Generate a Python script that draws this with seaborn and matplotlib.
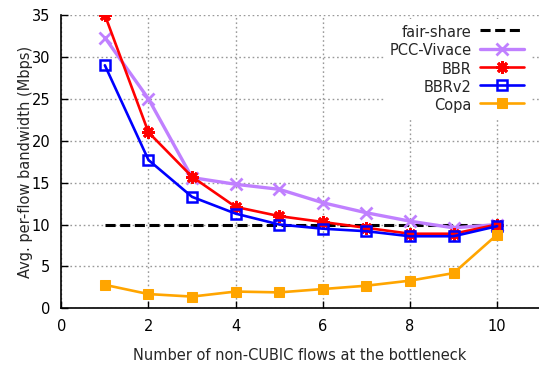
import matplotlib
matplotlib.use("Agg")
import matplotlib.pyplot as plt
import seaborn as sns
import pandas as pd

flows = [1, 2, 3, 4, 5, 6, 7, 8, 9, 10]
fair_share = [10, 10, 10, 10, 10, 10, 10, 10, 10, 10]
pcc_vivace = [32.3, 25.0, 15.6, 14.8, 14.2, 12.6, 11.4, 10.4, 9.6, 10.0]
bbr = [35.0, 21.0, 15.7, 12.1, 11.0, 10.3, 9.6, 8.9, 8.9, 10.0]
bbrv2 = [29.0, 17.7, 13.3, 11.3, 10.0, 9.5, 9.2, 8.6, 8.6, 9.8]
copa = [2.8, 1.7, 1.4, 2.0, 1.9, 2.3, 2.7, 3.3, 4.2, 8.8]

x_ticks = [0, 2, 4, 6, 8, 10]
y_ticks = [0, 5, 10, 15, 20, 25, 30, 35]

sns.set_theme(style="white")
plt.rcParams["font.family"] = ["DejaVu Sans"]

fig = plt.figure(figsize=(5.39, 3.65), dpi=100)
ax = fig.add_axes([0.1137, 0.1553, 0.8863, 0.8036])

df = pd.DataFrame({"x": flows, "fair": fair_share, "pcc": pcc_vivace,
                   "bbr": bbr, "bbrv2": bbrv2, "copa": copa})

sns.lineplot(data=df, x="x", y="fair", ax=ax, color="black", lw=2.2,
             dashes=(3.3, 1.5), label="fair-share")
sns.lineplot(data=df, x="x", y="pcc", ax=ax, color="#c080ff", lw=2.4,
             linestyle="-", marker="x", markersize=8, markeredgewidth=2,
             markeredgecolor="#c080ff", label="PCC-Vivace")
sns.lineplot(data=df, x="x", y="bbr", ax=ax, color="#ff0000", lw=1.9,
             linestyle="-", marker=(8, 2, 0), markersize=9, markeredgewidth=2,
             markeredgecolor="#ff0000", label="BBR")
sns.lineplot(data=df, x="x", y="bbrv2", ax=ax, color="#0000ff", lw=1.9,
             linestyle="-", marker="s", markersize=7, markerfacecolor="none",
             markeredgecolor="#0000ff", markeredgewidth=1.8, label="BBRv2")
sns.lineplot(data=df, x="x", y="copa", ax=ax, color="#ffa500", lw=1.9,
             linestyle="-", marker="s", markersize=7, markerfacecolor="#ffa500",
             markeredgecolor="#ffa500", label="Copa")

ax.set_xlim(0, 10.96)
ax.set_ylim(0, 35)
ax.set_xticks(x_ticks)
ax.set_yticks(y_ticks)
ax.grid(True, linestyle=(0, (1.2, 2)), color="#999999", lw=1)
for s in ["top", "right"]:
    ax.spines[s].set_visible(False)
for s in ["left", "bottom"]:
    ax.spines[s].set_color("black")
    ax.spines[s].set_linewidth(1.2)
ax.tick_params(direction="in", length=5, width=1, colors="black",
               labelsize=10.5, pad=8, left=True, bottom=True)
ax.set_xlabel("Number of non-CUBIC flows at the bottleneck", fontsize=10.5, labelpad=10)
ax.set_ylabel("Avg. per-flow bandwidth (Mbps)", fontsize=10.5, labelpad=-1)

leg = ax.legend(loc="upper right", bbox_to_anchor=(0.99, 1.0), frameon=True,
                markerfirst=False, fontsize=10.5, handlelength=3.0,
                labelspacing=0.22, borderaxespad=0.3, handletextpad=0.6)
leg.get_frame().set_facecolor("white")
leg.get_frame().set_edgecolor("none")
leg.get_frame().set_alpha(1)
for vp in leg._legend_handle_box.get_children():
    for c in vp.get_children():
        c.align = "right"

fig.savefig("out.png", dpi=100)
